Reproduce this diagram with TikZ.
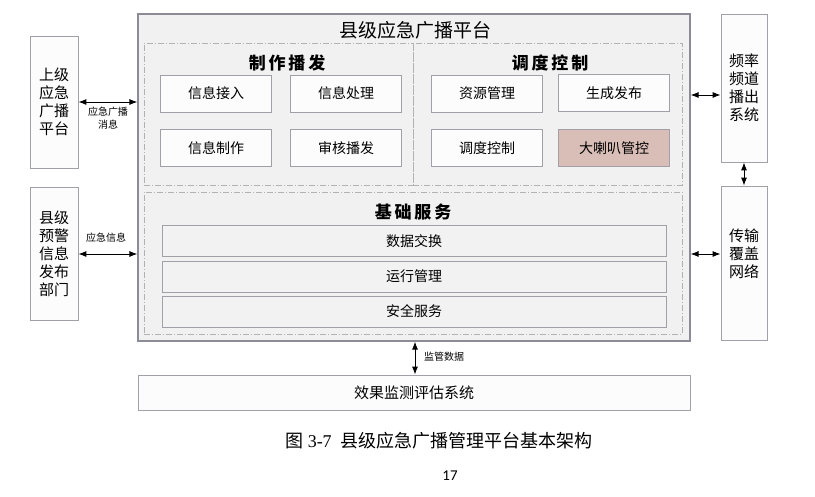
\documentclass[tikz,border=0pt]{standalone}
\usepackage{fontspec}
\setmainfont{Liberation Serif}
\newfontfamily\cjk{Noto Sans CJK SC}
\newfontfamily\pgfont{Carlito}
\usetikzlibrary{arrows.meta}
\definecolor{mainfill}{RGB}{241,241,241}
\definecolor{mainline}{RGB}{140,140,150}
\definecolor{secline}{RGB}{178,178,178}
\definecolor{itemline}{RGB}{160,160,166}
\definecolor{itemfill}{RGB}{252,252,252}
\definecolor{barfill}{RGB}{242,242,242}
\definecolor{hilite}{RGB}{217,190,183}
\tikzset{
  mainbox/.style={draw=mainline, fill=mainfill, line width=1.2pt, inner sep=0pt},
  section/.style={draw=secline, line width=0.6pt, dash pattern=on 6pt off 2pt on 1pt off 2pt, inner sep=0pt},
  item/.style={draw=itemline, fill=itemfill, line width=0.8pt, inner sep=0pt, minimum width=111pt, minimum height=37pt, font=\cjk\fontsize{14}{17}\selectfont},
  bar/.style={draw=itemline, fill=barfill, line width=0.8pt, inner sep=0pt, minimum width=504pt, minimum height=31pt, font=\cjk\fontsize{14}{17}\selectfont},
  side/.style={draw=itemline, fill=itemfill, line width=0.8pt, inner sep=0pt, align=center, font=\cjk\fontsize{15}{18}\selectfont},
  heading/.style={font=\cjk\bfseries\fontsize{17}{20}\selectfont, inner sep=0pt},
  small/.style={font=\cjk\fontsize{10}{13}\selectfont, inner sep=0pt, align=center},
  biarrow/.style={{Latex[length=8pt,width=6pt]}-{Latex[length=8pt,width=6pt]}, line width=0.9pt, black},
}
\begin{document}
\begin{tikzpicture}[x=1pt,y=-1pt]
\useasboundingbox (0,0) rectangle (815,497);
% main platform
\node[mainbox, minimum width=552pt, minimum height=327pt] (main) at (414,177.5) {};
\node[font=\cjk\fontsize{19}{22}\selectfont, inner sep=0pt] (title) at (415,30) {县级应急广播平台};
% sections
\node[section, minimum width=269pt, minimum height=142pt] (sec1) at (278.5,114) {};
\node[section, minimum width=269pt, minimum height=142pt] (sec2) at (547.5,114) {};
\node[section, minimum width=538pt, minimum height=142pt] (sec3) at (413,263) {};
\node[heading] (h1) at (287,63) {制\,作\,播\,发};
\node[heading] (h2) at (550,63) {调\,度\,控\,制};
\node[heading] (h3) at (413,212) {基\,础\,服\,务};
% items
\node[item] (i1) at (216,93.5) {信息接入};
\node[item] (i2) at (346,93.5) {信息处理};
\node[item] (i3) at (216,148) {信息制作};
\node[item] (i4) at (346,148) {审核播发};
\node[item] (i5) at (487,93.5) {资源管理};
\node[item] (i6) at (614,93) {生成发布};
\node[item] (i7) at (487,148) {调度控制};
\node[item, fill=hilite] (i8) at (614,148) {大喇叭管控};
% bars
\node[bar] (b1) at (414,241) {数据交换};
\node[bar] (b2) at (414,276.5) {运行管理};
\node[bar] (b3) at (414,311.5) {安全服务};
% side boxes
\node[side, minimum width=48pt, minimum height=132pt] (up) at (54,102) {上级\\应急\\广播\\平台};
\node[side, minimum width=48pt, minimum height=133pt] (warn) at (54,253.5) {县级\\预警\\信息\\发布\\部门};
\node[side, minimum width=46pt, minimum height=148pt] (freq) at (744,88) {频率\\频道\\播出\\系统};
\node[side, minimum width=46pt, minimum height=154pt] (trans) at (744,263) {};
\node[font=\cjk\fontsize{15}{18}\selectfont, align=center, inner sep=0pt] (transtxt) at (744,254) {传输\\覆盖\\网络};
\node[side, minimum width=552pt, minimum height=35pt] (eff) at (414,392.5) {效果监测评估系统};
% connectors
\coordinate (ya) at (0,102);
\coordinate (yb) at (0,254);
\coordinate (yc) at (0,95);
\coordinate (xd) at (415,0);
\draw[biarrow] (up.east |- ya) -- (main.west |- ya);
\draw[biarrow] (warn.east |- yb) -- (main.west |- yb);
\draw[biarrow] (main.east |- yc) -- (freq.west |- yc);
\draw[biarrow] (main.east |- yb) -- (trans.west |- yb);
\draw[biarrow] (freq.south) -- (trans.north);
\draw[biarrow] (main.south -| xd) -- (eff.north -| xd);
\node[small] (l1) at (108,118.5) {应急广播\\消息};
\node[small] (l2) at (106,238) {应急信息};
\node[small] (l3) at (444,357) {监管数据};
% caption
\node[inner sep=0pt, font=\fontsize{18}{21}\selectfont] (cap) at (439,441) {{\cjk 图}\ 3-7\ \ {\cjk 县级应急广播管理平台基本架构}};
\node[inner sep=0pt, font=\pgfont\fontsize{15}{17}\selectfont] (pg) at (450,476) {17};
\end{tikzpicture}
\end{document}
